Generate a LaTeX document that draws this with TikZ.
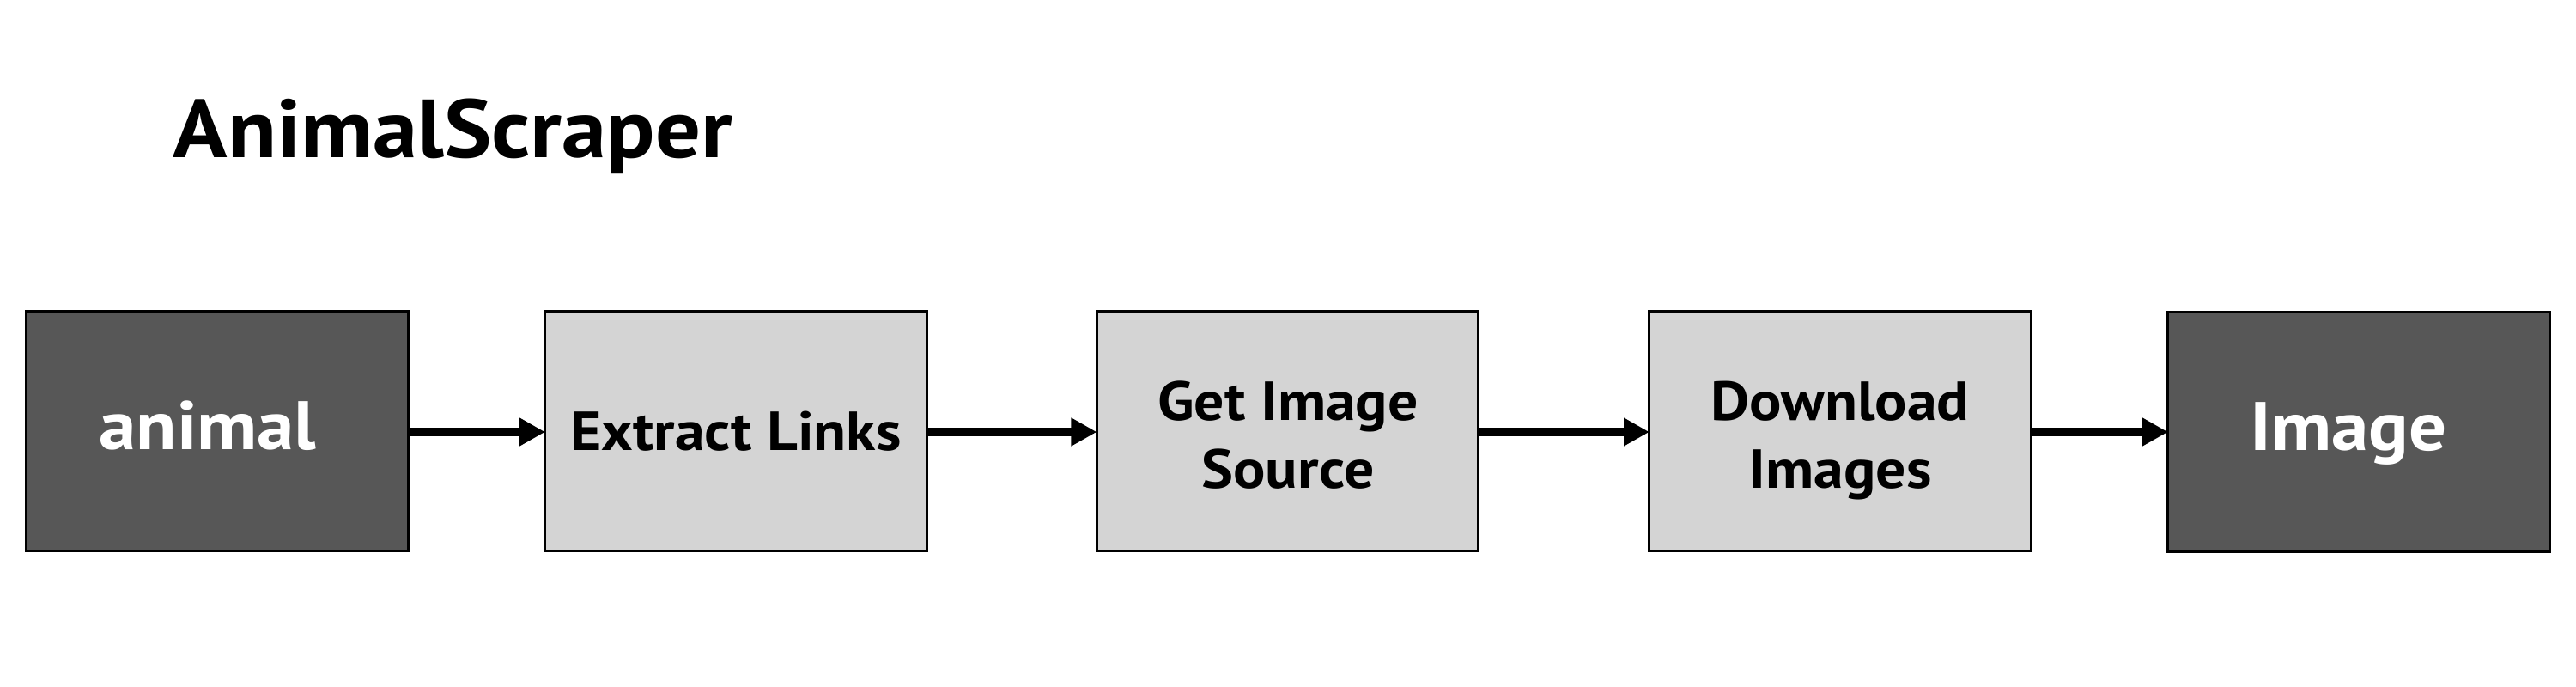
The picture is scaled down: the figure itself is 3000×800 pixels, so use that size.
\documentclass[tikz,border=0pt]{standalone}
\usepackage{fontspec}
\setmainfont{PT Sans}[FakeStretch=1.09]
\usetikzlibrary{arrows.meta}
\definecolor{darkbox}{HTML}{575757}
\definecolor{lightbox}{HTML}{D4D4D4}
\tikzset{
  boxbase/.style={draw=black, line width=0.85pt, minimum width=4.44cm, minimum height=2.79cm, inner sep=0pt, outer sep=0pt},
  darkbox/.style={boxbase, fill=darkbox},
  lightbox/.style={boxbase, fill=lightbox},
  darktext/.style={inner sep=0pt, text=white, font=\bfseries\fontsize{22.7}{28}\selectfont},
  lighttext/.style={inner sep=0pt, text=black, align=center, font=\bfseries\fontsize{18.2}{22.5}\selectfont},
  flow/.style={line width=3pt, -{Triangle[length=8.5pt, width=8.8pt]}},
}
\begin{document}
\begin{tikzpicture}[x=0.01cm, y=-0.01cm]
\useasboundingbox[fill=white] (0,0) rectangle (3000,800);
\node[anchor=base west, inner sep=0pt, font=\bfseries\fontsize{27.3}{32}\selectfont] (title) at (201,183) {AnimalScraper};

\node[darkbox]  (b1) at (253,502) {};
\node[lightbox] (b2) at (857,502) {};
\node[lightbox] (b3) at (1499.5,502) {};
\node[lightbox] (b4) at (2143,502) {};
\node[darkbox]  (b5) at (2747,503) {};

\node[darktext, anchor=base] (t1) at (242,523.5) {animal};
\node[lighttext, anchor=base] (t2) at (857,524) {Extract Links};
\node[lighttext, anchor=north] (t3) at (1500,443) {Get Image\\Source};
\node[lighttext, anchor=north] (t4) at (2143,443) {Download\\Images};
\node[darktext, anchor=base] (t5) at (2735,524) {Image};

\draw[flow] (b1.east |- 0,503) -- (b2.west |- 0,503);
\draw[flow] (b2.east |- 0,503) -- (b3.west |- 0,503);
\draw[flow] (b3.east |- 0,503) -- (b4.west |- 0,503);
\draw[flow] (b4.east |- 0,503) -- (b5.west |- 0,503);
\end{tikzpicture}
\end{document}
